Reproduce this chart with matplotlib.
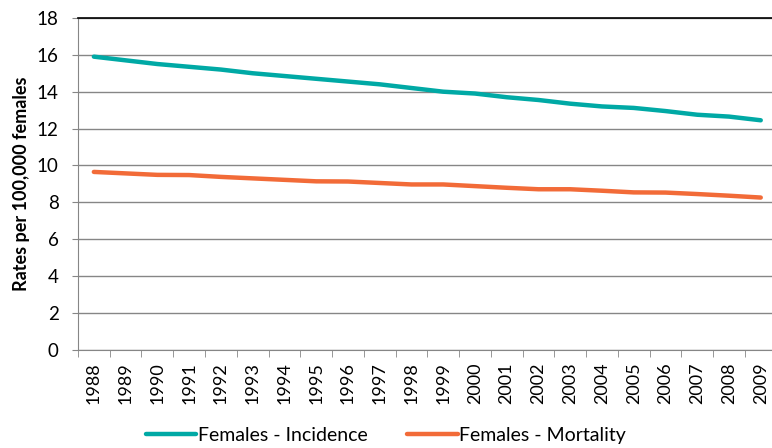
import matplotlib.pyplot as plt
import numpy as np

years = [str(y) for y in range(1988, 2010)]
incidence = [15.9, 15.7, 15.5, 15.35, 15.2, 15.0, 14.85, 14.7, 14.55, 14.4, 14.2,
             14.0, 13.9, 13.7, 13.55, 13.35, 13.2, 13.12, 12.95, 12.75, 12.65, 12.45]
mortality = [9.65, 9.57, 9.49, 9.48, 9.38, 9.3, 9.22, 9.14, 9.13, 9.05, 8.97,
             8.97, 8.88, 8.79, 8.71, 8.71, 8.63, 8.54, 8.53, 8.45, 8.36, 8.26]

plt.rcParams['font.family'] = ['Lato', 'DejaVu Sans']

fig = plt.figure(figsize=(7.72, 4.48), dpi=100)
ax = fig.add_axes([0.101, 0.219, 0.905, 0.741])

x = np.arange(len(years))
ax.plot(x, incidence, color='#00A9A5', lw=3.2, solid_capstyle='round', label='Females - Incidence')
ax.plot(x, mortality, color='#F26B38', lw=3.2, solid_capstyle='round', label='Females - Mortality')

ax.set_xlim(-0.5, len(years) - 0.5)
ax.set_ylim(0, 18)
ax.set_yticks(range(0, 19, 2))
ax.tick_params(axis='y', labelsize=13.5, length=4, color='#868686', pad=10)
ax.grid(axis='y', color='#868686', lw=1)
ax.set_axisbelow(True)

ax.set_xticks(x)
ax.set_xticklabels(years, rotation=90, fontsize=13)
ax.set_xticks(np.arange(-0.5, len(years)), minor=True)
ax.tick_params(axis='x', which='major', length=0, pad=9)
ax.tick_params(axis='x', which='minor', length=5, color='#868686')

for s in ['left', 'bottom']:
    ax.spines[s].set_color('#868686')
ax.spines['top'].set_color('black')
ax.spines['top'].set_linewidth(1.2)
ax.spines['right'].set_visible(False)

ax.set_ylabel('Rates per 100,000 females', fontsize=13, fontweight='bold', labelpad=5)

fig.legend(loc='lower center', bbox_to_anchor=(0.5, -0.03), ncol=2, frameon=False,
           fontsize=14, handlelength=2.6, handletextpad=0.1, columnspacing=2.0)

fig.savefig('out.png', dpi=100)
